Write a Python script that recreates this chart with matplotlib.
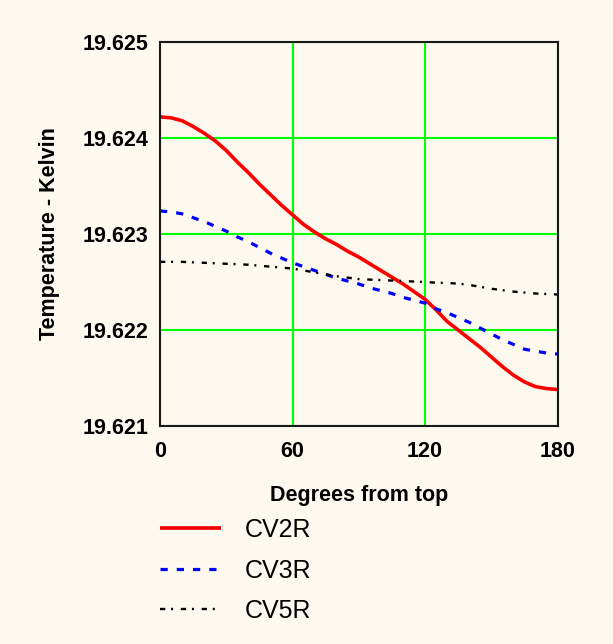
import matplotlib
matplotlib.use("Agg")
import matplotlib.pyplot as plt

# Temperature profiles around the cylinder, sampled every 5 degrees from the top
degrees = [0, 5, 10, 15, 20, 25, 30, 35, 40, 45, 50, 55, 60, 65, 70, 75, 80, 85, 90,
           95, 100, 105, 110, 115, 120, 125, 130, 135, 140, 145, 150, 155, 160, 165,
           170, 175, 180]

cv2r = [19.62422, 19.62421, 19.62418, 19.62412, 19.62405, 19.62397, 19.62387,
        19.62375, 19.62364, 19.62352, 19.62341, 19.62330, 19.62320, 19.62310,
        19.62302, 19.62295, 19.62289, 19.62282, 19.62276, 19.62269, 19.62262,
        19.62255, 19.62248, 19.62240, 19.62232, 19.62221, 19.62209, 19.62200,
        19.62191, 19.62182, 19.62172, 19.62162, 19.62153, 19.62146, 19.62141,
        19.62139, 19.62138]

cv3r = [19.62324, 19.62323, 19.62321, 19.62317, 19.62313, 19.62308, 19.62303,
        19.62297, 19.62292, 19.62286, 19.62280, 19.62275, 19.62270, 19.62266,
        19.62262, 19.62258, 19.62254, 19.62251, 19.62248, 19.62244, 19.62241,
        19.62238, 19.62234, 19.62231, 19.62228, 19.62222, 19.62218, 19.62213,
        19.62208, 19.62202, 19.62196, 19.62190, 19.62185, 19.62180, 19.62178,
        19.62176, 19.62175]

cv5r = [19.62271, 19.62271, 19.62271, 19.622705, 19.62270, 19.622695, 19.62269,
        19.622685, 19.62268, 19.62267, 19.62266, 19.62265, 19.62264, 19.62262,
        19.62260, 19.62258, 19.62256, 19.622545, 19.62253, 19.622525, 19.62252,
        19.622515, 19.62251, 19.622505, 19.62250, 19.622493, 19.62249, 19.622483,
        19.62247, 19.62245, 19.62243, 19.622415, 19.62240, 19.62239, 19.62238,
        19.622375, 19.62237]

series_names = ["CV2R", "CV3R", "CV5R"]
x_ticks = [0, 60, 120, 180]
y_ticks = [19.621, 19.622, 19.623, 19.624, 19.625]
y_tick_labels = ["19.621", "19.622", "19.623", "19.624", "19.625"]

BG = "#FEF9EF"
plt.rcParams["lines.scale_dashes"] = False
plt.rcParams["font.family"] = ["Liberation Sans", "DejaVu Sans"]

W, H = 613, 644
fig = plt.figure(figsize=(W / 100, H / 100), dpi=100, facecolor=BG)
ax = fig.add_axes([160 / W, 1 - 426 / H, (557.5 - 160) / W, (426 - 42) / H])
ax.set_facecolor(BG)

ax.set_xlim(0, 180)
ax.set_ylim(19.621, 19.625)
ax.set_xticks(x_ticks)
ax.set_yticks(y_ticks)
ax.set_yticklabels(y_tick_labels)
ax.tick_params(axis="both", length=0, labelsize=15.5)
ax.tick_params(axis="x", pad=11)
ax.tick_params(axis="y", pad=8.5)
for lab in ax.get_xticklabels() + ax.get_yticklabels():
    lab.set_fontweight("bold")

ax.grid(True, color="#00FF00", linewidth=1.5, zorder=1)
ax.set_axisbelow(True)
for s in ax.spines.values():
    s.set_color("#1a1a1a")
    s.set_linewidth(1.5)
    s.set_zorder(5)

l1, = ax.plot(degrees, cv2r, color="#FF0000", linewidth=2.6, solid_capstyle="butt",
              solid_joinstyle="round", label=series_names[0], zorder=3)
l2, = ax.plot(degrees, cv3r, color="#0000FF", linewidth=2.3, dashes=(5.2, 6.5),
              label=series_names[1], zorder=3)
l3, = ax.plot(degrees, cv5r, color="black", linewidth=1.7, dashes=(3.8, 4.2, 1.4, 5.6),
              label=series_names[2], zorder=3)

ax.set_xlabel("Degrees from top", fontsize=15.5, fontweight="bold", labelpad=16)
ax.set_ylabel("Temperature - Kelvin", fontsize=15.5, fontweight="bold", labelpad=16)

fig.legend(handles=[l1, l2, l3], labels=series_names, loc="upper left",
           bbox_to_anchor=(160 / W, 1 - 518 / H), frameon=False,
           handlelength=2.45, handletextpad=0.95, labelspacing=0.66,
           borderpad=0, borderaxespad=0,
           prop={"family": ["Liberation Sans", "DejaVu Sans"], "size": 18})

fig.savefig("out.png", dpi=100, facecolor=BG)
